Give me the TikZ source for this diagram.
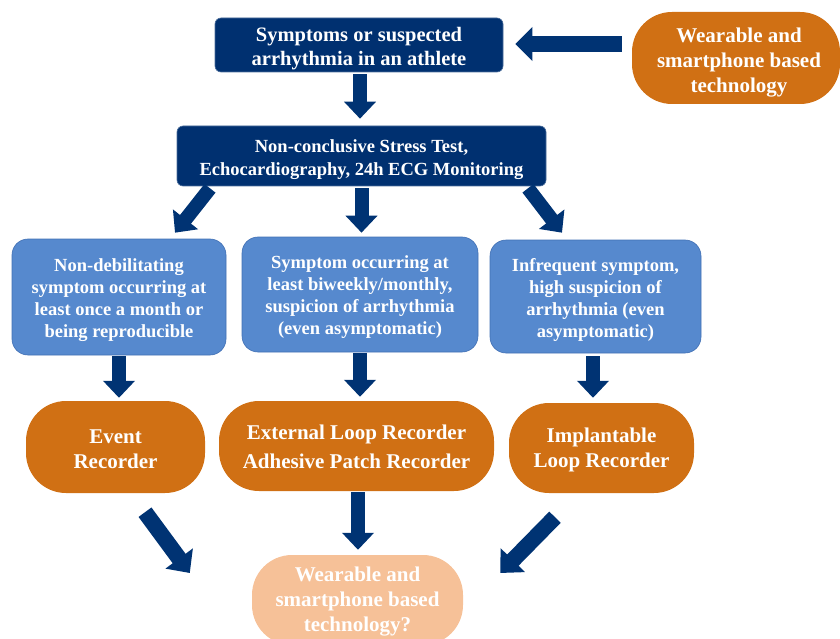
\documentclass[tikz,border=0pt]{standalone}
\usepackage{fontspec}
\setmainfont{Liberation Serif}
\usetikzlibrary{arrows.meta,calc}
\definecolor{navy}{RGB}{0,48,112}
\definecolor{arrowblue}{RGB}{0,51,115}
\definecolor{lightblue}{RGB}{86,137,206}
\definecolor{lbborder}{RGB}{66,112,180}
\definecolor{orangebox}{RGB}{208,112,20}
\definecolor{peach}{RGB}{246,193,152}
\tikzset{
  darkbox/.style={draw=navy!70!white, line width=0.6pt, fill=navy, rounded corners=6pt, inner sep=0pt},
  bluebox/.style={draw=lbborder, line width=0.6pt, fill=lightblue, rounded corners=16pt, inner sep=0pt},
  pill/.style={fill=orangebox, rounded corners=40pt, inner sep=0pt},
  txt/.style={text=white, align=center, inner sep=0pt, font=\fontsize{20.5}{24}\selectfont\bfseries},
  txtsmall/.style={txt, font=\fontsize{18.5}{22}\selectfont\bfseries},
  txtpill/.style={txt, font=\fontsize{21}{25}\selectfont\bfseries},
  blockarrow/.style={draw=arrowblue, line width=14pt,
    -{Triangle[width=31pt,length=17pt]}, color=arrowblue}
}
\begin{document}
\begin{tikzpicture}[x=1pt,y=-1pt]
\useasboundingbox (0,0) rectangle (840,639);

% shapes
\node[darkbox, minimum width=288pt, minimum height=54pt] (top) at (359,45) {};
\node[pill, minimum width=208pt, minimum height=92pt] (tr) at (736,58) {};
\node[darkbox, minimum width=369pt, minimum height=60pt] (box2) at (361.5,156) {};
\node[bluebox, minimum width=214pt, minimum height=116pt] (bl) at (119,297) {};
\node[bluebox, minimum width=236pt, minimum height=115pt] (bm) at (360,294.5) {};
\node[bluebox, minimum width=211pt, minimum height=113pt] (br) at (595.5,296.5) {};
\node[pill, minimum width=179pt, minimum height=92pt] (ol) at (115.5,447) {};
\node[pill, minimum width=275pt, minimum height=90pt] (om) at (356.5,446) {};
\node[pill, minimum width=185pt, minimum height=90pt] (or) at (601.5,448) {};
\node[pill, fill=peach, minimum width=211pt, minimum height=90pt] (bot) at (357.5,600) {};

% texts
\node[txt] (topt) at ($(top.center)+(0,4)$) {Symptoms or suspected\\arrhythmia in an athlete};
\node[txtpill] (trt) at ($(tr.center)+(3,5)$) {Wearable and\\smartphone based\\technology};
\node[txt, font=\fontsize{18.5}{23}\selectfont\bfseries] (box2t) at ($(box2.center)+(0,4)$)
  {Non-conclusive Stress Test,\\Echocardiography, 24h ECG Monitoring};
\node[txtsmall] (blt) at ($(bl.center)+(0,3)$)
  {Non-debilitating\\symptom occurring at\\least once a month or\\being reproducible};
\node[txtsmall] (bmt) at ($(bm.center)+(0,3)$)
  {Symptom occurring at\\least biweekly/monthly,\\suspicion of arrhythmia\\(even asymptomatic)};
\node[txtsmall] (brt) at ($(br.center)+(0,3)$)
  {Infrequent symptom,\\high suspicion of\\arrhythmia (even\\asymptomatic)};
\node[txtpill] (olt) at ($(ol.center)+(0,2)$) {Event\\Recorder};
\node[txtpill, font=\fontsize{21}{29}\selectfont\bfseries] (omt) at ($(om.center)+(0,1)$)
  {External Loop Recorder\\Adhesive Patch Recorder};
\node[txtpill] (ort) at ($(or.center)+(0,2)$) {Implantable\\Loop Recorder};
\node[txtpill] (bott) at ($(bot.center)+(0,2)$) {Wearable and\\smartphone based\\technology?};

% connectors
\draw[blockarrow, line width=16pt, -{Triangle[width=33pt,length=17pt]}]
  ($(tr.west)+(-10,-14)$) -- ($(top.east)+(12,-1)$);
\draw[blockarrow] ($(top.south)+(1,2)$) -- ($(box2.north)+(-1.5,-7)$);
\draw[blockarrow] ($(box2.south)+(-151.5,2)$) -- ($(bl.north)+(56,-6)$);
\draw[blockarrow] ($(box2.south)+(0,2)$) -- ($(bm.north)+(1.5,-4)$);
\draw[blockarrow] ($(box2.south)+(166.5,2)$) -- ($(br.north)+(-33.5,-7)$);
\draw[blockarrow] ($(bl.south)+(0,1)$) -- ($(ol.north)+(3.5,-3)$);
\draw[blockarrow] ($(bm.south)+(0,1)$) -- ($(om.north)+(3.5,-4)$);
\draw[blockarrow] ($(br.south)+(-2.5,3)$) -- ($(or.north)+(-8.5,-5)$);
\draw[blockarrow, line width=16pt, -{Triangle[width=33pt,length=18pt]}]
  ($(ol.south)+(29.5,19)$) -- ($(bot.west)+(-62,-27)$);
\draw[blockarrow] ($(om.south)+(1.5,1)$) -- ($(bot.north)+(0.5,-5)$);
\draw[blockarrow, line width=16pt, -{Triangle[width=33pt,length=18pt]}]
  ($(or.south)+(-46.5,24)$) -- ($(bot.east)+(37,-27)$);
\end{tikzpicture}
\end{document}
